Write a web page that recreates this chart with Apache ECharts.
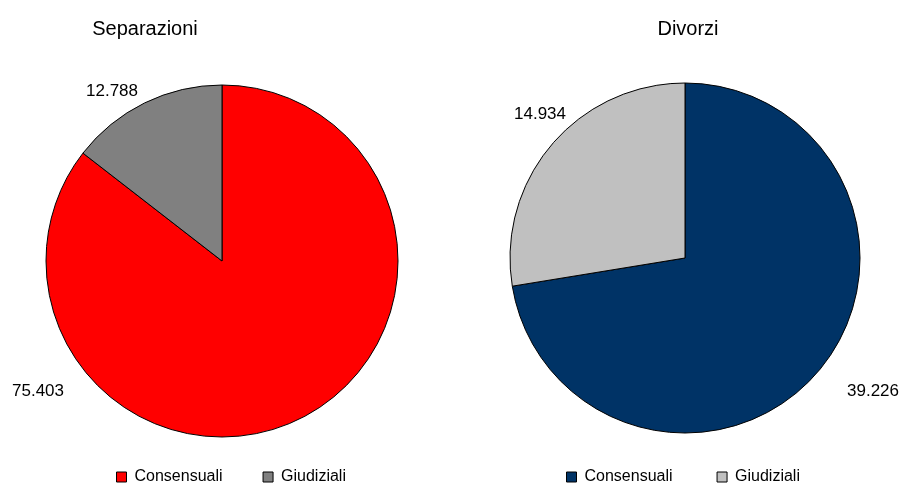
<!DOCTYPE html>
<html>
<head>
<meta charset="utf-8">
<script src="https://cdn.jsdelivr.net/npm/echarts@6/dist/echarts.min.js"></script>
<style>
html,body{margin:0;padding:0;background:#fff;}
#c{width:902px;height:484px;}
</style>
</head>
<body>
<div id="c"></div>
<script>
var categories = ['Consensuali', 'Giudiziali'];
var separazioniValues = [75403, 12788];
var divorziValues = [39226, 14934];
var titles = ['Separazioni', 'Divorzi'];

var sepColors = ['#FF0000', '#808080'];
var divColors = ['#003366', '#C0C0C0'];
var FONT = 'Liberation Sans, Arial, sans-serif';

function fmt(v) {
  return String(v).replace(/\B(?=(\d{3})+(?!\d))/g, '.');
}
function mkData(vals, colors) {
  return categories.map(function (c, i) {
    return { name: c, value: vals[i], itemStyle: { color: colors[i] } };
  });
}
function mkLegend(colors, left, gap) {
  return {
    left: left, top: 464, orient: 'horizontal', icon: 'rect',
    itemWidth: 10, itemHeight: 10, itemGap: gap, selectedMode: false,
    textStyle: { fontFamily: FONT, fontSize: 16, color: '#000', padding: [0, 0, 0, 3] },
    data: categories.map(function (c, i) {
      return { name: c, itemStyle: { color: colors[i], borderColor: '#000', borderWidth: 1 } };
    })
  };
}
var sepLabelPos = [[38, 391], [112, 91]];
var divLabelPos = [[873, 391], [540, 114]];
function mkPie(vals, colors, center, radius, labelPos) {
  return {
    type: 'pie', center: center, radius: radius, startAngle: 90, clockwise: true,
    avoidLabelOverlap: false,
    data: mkData(vals, colors),
    itemStyle: { borderColor: '#000', borderWidth: 1 },
    label: {
      show: true, position: 'outside', fontFamily: FONT, fontSize: 17, color: '#000',
      formatter: function (p) { return fmt(p.value); }
    },
    labelLine: { show: false },
    labelLayout: function (p) {
      var pos = labelPos[p.dataIndex];
      return { x: pos[0], y: pos[1], align: 'center', verticalAlign: 'middle' };
    },
    emphasis: { disabled: true }
  };
}

var chart = echarts.init(document.getElementById('c'));
chart.setOption({
  animation: false,
  backgroundColor: '#fff',
  title: [
    { text: titles[0], left: 140, top: 14, textAlign: 'center',
      textStyle: { fontFamily: FONT, fontSize: 20, fontWeight: 'normal', color: '#000' } },
    { text: titles[1], left: 683, top: 14, textAlign: 'center',
      textStyle: { fontFamily: FONT, fontSize: 20, fontWeight: 'normal', color: '#000' } }
  ],
  legend: [mkLegend(sepColors, 111, 40), mkLegend(divColors, 561, 44)],
  series: [
    mkPie(separazioniValues, sepColors, [222, 261], 176, sepLabelPos),
    mkPie(divorziValues, divColors, [685, 258], 175, divLabelPos)
  ]
});
</script>
</body>
</html>
